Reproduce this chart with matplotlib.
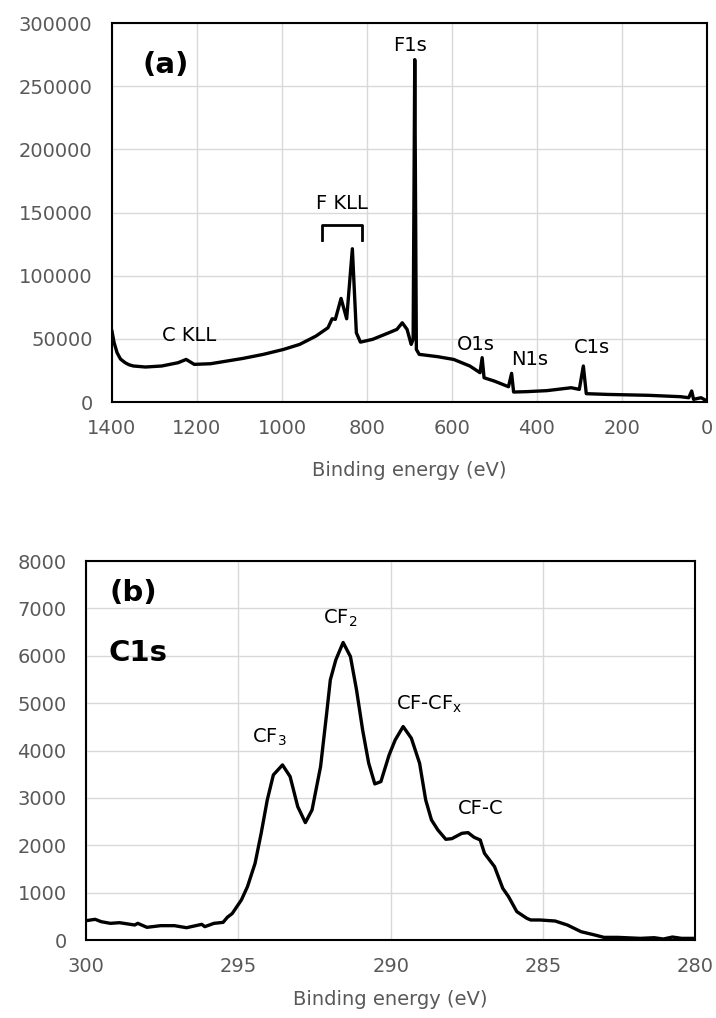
import numpy as np
import matplotlib
matplotlib.use("Agg")
import matplotlib.pyplot as plt

plt.rcParams['font.family'] = ['DejaVu Sans']
plt.rcParams['mathtext.default'] = 'regular'

# (a) survey spectrum, binding energy (eV) vs counts
survey_be = [1400, 1395, 1388, 1380, 1369, 1360, 1349.5, 1321, 1283, 1244.5, 1225.5, 1206.4, 1168,
             1092, 1044, 996.6, 958.4, 920, 891.7, 882, 874.5, 861, 847.8,
             834.4, 825, 815.4, 786.8, 748.6, 729.6, 717, 705.7, 696, 691.4,
             687.6, 683.8, 677, 634, 596, 558, 534, 529, 524.5, 500.6,
             467, 459.7, 455, 424.4, 376.7, 319.5, 300.4, 290.9, 284, 233.6,
             138, 62, 43, 36, 31.5, 14, 0]
survey_counts = [56000, 47000, 39000, 34000, 31100, 29500, 28500, 27700, 28500, 31100, 33700, 29800, 30300,
                 34500, 37700, 41600, 45600, 52200, 58800, 65900, 65400, 82000, 65900,
                 121300, 54800, 47400, 49600, 54800, 57500, 62700, 57500, 45600, 49600,
                 271000, 41600, 37700, 35900, 33700, 28500, 23200, 35100, 19200, 16600,
                 12100, 22700, 7900, 8200, 9000, 11300, 10000, 28500, 6600, 6000,
                 5300, 4200, 3400, 8700, 2100, 3400, 800]

# (b) C1s high resolution spectrum
c1s_be = [300, 299.7, 299.5, 299.2, 298.9, 298.4, 298.3, 298.0, 297.55, 297.1,
          296.7, 296.2, 296.1, 295.8, 295.5, 295.36, 295.2, 294.9, 294.7, 294.45,
          294.25, 294.05, 293.85, 293.55, 293.3, 293.05, 292.8, 292.58, 292.3, 292.1,
          291.98, 291.8, 291.56, 291.32, 291.12, 290.92, 290.72, 290.52, 290.32, 290.05,
          289.85, 289.59, 289.32, 289.05, 288.85, 288.66, 288.45, 288.19, 287.99, 287.66,
          287.46, 287.26, 287.06, 286.92, 286.59, 286.32, 286.13, 285.86, 285.53, 285.4,
          285.1, 284.6, 284.2, 283.75, 283.3, 283.0, 282.55, 281.8, 281.35, 281.05,
          280.75, 280.45, 280]
c1s_counts = [408, 437, 387, 352, 366, 317, 352, 268, 303, 303,
              260, 331, 282, 352, 373, 480, 560, 845, 1126, 1619,
              2253, 2957, 3485, 3696, 3450, 2816, 2478, 2746, 3661, 4787,
              5491, 5914, 6280, 5984, 5280, 4435, 3731, 3295, 3344, 3907,
              4224, 4506, 4259, 3731, 2957, 2534, 2323, 2126, 2140, 2253,
              2267, 2168, 2112, 1830, 1549, 1091, 915, 600, 458, 423,
              423, 401, 317, 176, 106, 56, 56, 35, 49, 21,
              63, 35, 35]

grey = '#595959'
fig = plt.figure(figsize=(7.16, 10.18), dpi=100)
ax1 = fig.add_axes([0.1564, 0.6051, 0.831, 0.3723])
ax2 = fig.add_axes([0.1201, 0.0766, 0.851, 0.3723])


def style(ax, lpad):
    ax.grid(True, color='#d9d9d9', lw=1)
    ax.set_axisbelow(True)
    for s in ax.spines.values():
        s.set_linewidth(1.5)
        s.set_color('black')
    ax.tick_params(length=0, labelsize=14, colors=grey)
    ax.tick_params(axis='x', pad=12)
    ax.tick_params(axis='y', pad=14)
    ax.set_xlabel('Binding energy (eV)', fontsize=14, color=grey, labelpad=lpad)


# top panel
ax1.plot(survey_be, survey_counts, color='black', lw=2.4)
ax1.set_xlim(1400, 0)
ax1.set_ylim(0, 300000)
ax1.set_xticks(np.arange(1400, -1, -200))
ax1.set_yticks(np.arange(0, 300001, 50000))
style(ax1, 17)

ax1.text(1273, 267000, '(a)', fontsize=21, fontweight='bold', ha='center', va='center')
ax1.text(699, 282000, 'F1s', fontsize=14, ha='center', va='center')
ax1.text(858, 157000, 'F KLL', fontsize=14, ha='center', va='center')
ax1.plot([906, 906, 812.5, 812.5], [128000, 140000, 140000, 128000], color='black', lw=2)
ax1.text(1218, 52700, 'C KLL', fontsize=14, ha='center', va='center')
ax1.text(543, 45600, 'O1s', fontsize=14, ha='center', va='center')
ax1.text(418, 33700, 'N1s', fontsize=14, ha='center', va='center')
ax1.text(270, 43000, 'C1s', fontsize=14, ha='center', va='center')

# bottom panel
ax2.plot(c1s_be, c1s_counts, color='black', lw=2.4)
ax2.set_xlim(300, 280)
ax2.set_ylim(0, 8000)
ax2.set_xticks(np.arange(300, 279, -5))
ax2.set_yticks(np.arange(0, 8001, 1000))
style(ax2, 10)

ax2.text(298.44, 7324, '(b)', fontsize=21, fontweight='bold', ha='center', va='center')
ax2.text(298.3, 6056, 'C1s', fontsize=21, fontweight='bold', ha='center', va='center')
ax2.text(291.65, 6795, 'CF$_2$', fontsize=14, ha='center', va='center')
ax2.text(293.98, 4280, 'CF$_3$', fontsize=14, ha='center', va='center')
ax2.text(288.72, 4985, 'CF-CF$_x$', fontsize=14, ha='center', va='center')
ax2.text(287.06, 2780, 'CF-C', fontsize=14, ha='center', va='center')

fig.savefig('out.png', dpi=100)
